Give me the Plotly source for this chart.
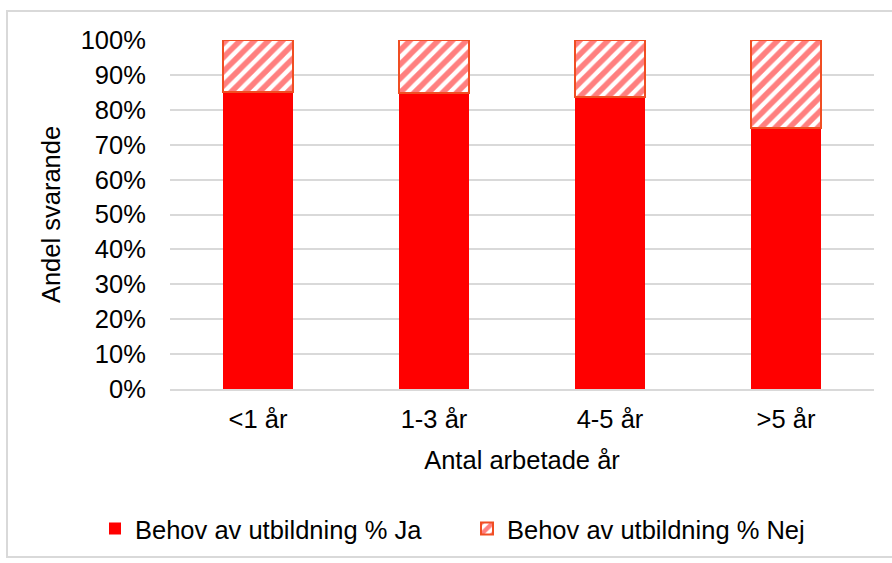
import plotly.graph_objects as go

categories = ["<1 år", "1-3 år", "4-5 år", ">5 år"]
ja_values = [85.2, 84.8, 83.6, 74.8]
nej_values = [14.8, 15.2, 16.4, 25.2]
ytick_vals = [0, 10, 20, 30, 40, 50, 60, 70, 80, 90, 100]
ytick_text = [f"{v}%" for v in ytick_vals]

FONT = "Liberation Sans, Arial, sans-serif"
FS = 25.5

fig = go.Figure()
fig.add_trace(go.Bar(
    x=categories, y=ja_values, name="Behov av utbildning % Ja",
    marker=dict(color="#FF0000", line=dict(width=0)),
))
fig.add_trace(go.Bar(
    x=categories, y=nej_values, name="Behov av utbildning % Nej",
    marker=dict(
        color="#FFFFFF",
        line=dict(color="#F04E23", width=2),
        pattern=dict(shape="/", fgcolor="#FF0000", bgcolor="#FFFFFF",
                     size=10, solidity=0.55, fillmode="overlay"),
    ),
))

W, H = 892, 563
L, R, T, B = 170, 18, 40, 174
pw, ph = W - L - R, H - T - B

def px_x(p):
    return (p - L) / pw

def px_y(p):
    return (H - B - p) / ph

fig.update_layout(
    width=W, height=H,
    barmode="stack", bargap=0.6,
    margin=dict(l=L, r=R, t=T, b=B, autoexpand=False),
    paper_bgcolor="white", plot_bgcolor="white",
    font=dict(family=FONT, size=FS, color="#000000"),
    showlegend=True,
    legend=dict(
        orientation="h", x=px_x(95), xanchor="left", y=px_y(529), yanchor="middle",
        font=dict(family=FONT, size=FS, color="#000000"),
        entrywidth=327, entrywidthmode="pixels", traceorder="normal",
        bgcolor="rgba(0,0,0,0)",
    ),
    xaxis=dict(
        showgrid=False, showline=True, linecolor="#D9D9D9", linewidth=1.5,
        ticks="outside", ticklen=7, tickcolor="rgba(0,0,0,0)",
        title=dict(text="Antal arbetade år", standoff=19,
                   font=dict(family=FONT, size=FS)),
        automargin=False,
    ),
    yaxis=dict(
        range=[0, 100], tickvals=ytick_vals, ticktext=ytick_text,
        showgrid=True, gridcolor="#D9D9D9", gridwidth=1.5,
        zeroline=False, showline=False,
        ticks="outside", ticklen=18, tickcolor="rgba(0,0,0,0)",
        title=dict(text="Andel svarande", standoff=12,
                   font=dict(family=FONT, size=FS)),
        automargin=False,
    ),
    shapes=[dict(
        type="rect", xref="paper", yref="paper",
        x0=px_x(7), x1=px_x(910), y0=px_y(557), y1=px_y(11),
        line=dict(color="#D9D9D9", width=2), fillcolor="rgba(0,0,0,0)",
        layer="below",
    )],
)

fig.write_html("out.html", config={"displayModeBar": False},
               post_script="document.body.style.margin='0';")
